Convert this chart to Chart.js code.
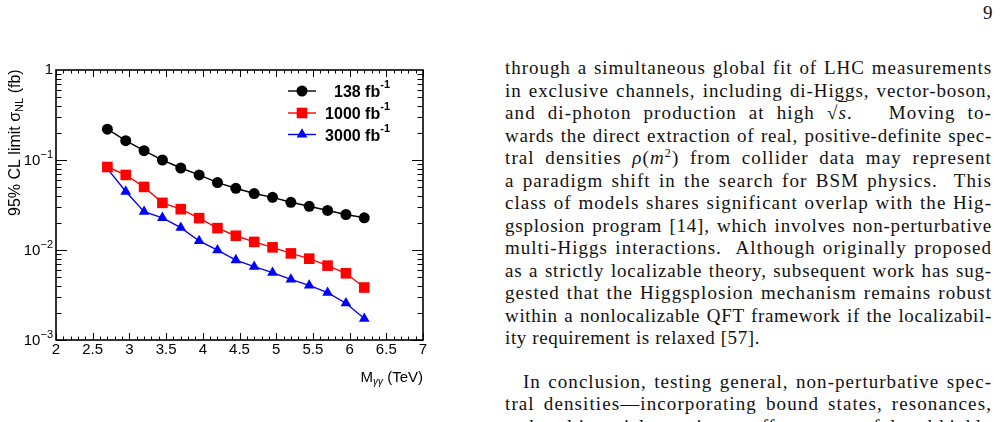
<!DOCTYPE html>
<html lang="en">
<head>
    <meta charset="UTF-8">
    <script src="https://cdn.jsdelivr.net/npm/chart.js"></script>
    <title>Limit plot</title>
    <style>
        html, body { margin: 0; padding: 0; background: #fff; }
        body { width: 1000px; height: 422px; overflow: hidden; position: relative; }
        #grafico { position: absolute; left: 0; top: 0; }
        .texto {
            position: absolute; left: 505px; top: 57px; width: 487px;
            font-family: "Liberation Serif", "DejaVu Serif", serif;
            font-size: 19px; line-height: 22.5px; color: #111;
        }
        .texto div { text-align: justify; text-align-last: justify; white-space: nowrap; }
        .texto div.fim { text-align-last: left; }
        .texto.medir div { text-align: left; text-align-last: left; }
        .texto .p2 { margin-top: 21px; padding-left: 18px; }
        #pagina {
            position: absolute; left: 983px; top: 2px;
            font-family: "Liberation Serif", serif; font-size: 19px; color: #111;
        }
        .raiz { text-decoration: overline; font-style: italic; }
    </style>
</head>
<body>
    <canvas id="grafico" width="460" height="422"></canvas>
    <div id="pagina">9</div>

    <div class="texto" id="texto">
        <div><span>through a simultaneous global fit of LHC measurements</span></div>
        <div><span>in exclusive channels, including di-Higgs, vector-boson,</span></div>
        <div><span>and di-photon production at high &radic;<span class="raiz">s</span>.&nbsp;&nbsp; Moving to-</span></div>
        <div><span>wards the direct extraction of real, positive-definite spec-</span></div>
        <div><span>tral densities <i>&rho;</i>(<i>m</i><sup style="font-size:12px;line-height:0">2</sup>) from collider data may represent</span></div>
        <div><span>a paradigm shift in the search for BSM physics.&nbsp; This</span></div>
        <div><span>class of models shares significant overlap with the Hig-</span></div>
        <div><span>gsplosion program [14], which involves non-perturbative</span></div>
        <div><span>multi-Higgs interactions.&nbsp; Although originally proposed</span></div>
        <div><span>as a strictly localizable theory, subsequent work has sug-</span></div>
        <div><span>gested that the Higgsplosion mechanism remains robust</span></div>
        <div><span>within a nonlocalizable QFT framework if the localizabil-</span></div>
        <div class="fim"><span>ity requirement is relaxed [57].</span></div>
        <div class="p2"><span>In conclusion, testing general, non-perturbative spec-</span></div>
        <div><span>tral densities&mdash;incorporating bound states, resonances,</span></div>
        <div><span>and multi-particle continua&mdash;offers a powerful and highly</span></div>
    </div>

<script>
    // valores (escala log)
    var massas = [2.7, 2.95, 3.2, 3.45, 3.7, 3.95, 4.2, 4.45, 4.7, 4.95, 5.2, 5.45, 5.7, 5.95, 6.2];
    var limite138 = [0.220, 0.164, 0.127, 0.100, 0.0815, 0.0682, 0.0561, 0.0485, 0.0424, 0.0385, 0.0339, 0.0306, 0.0275, 0.0248, 0.0228];
    var limite1000 = [0.0836, 0.0682, 0.0502, 0.0334, 0.0284, 0.0226, 0.0175, 0.0144, 0.0123, 0.0107, 0.00917, 0.00801, 0.00670, 0.00551, 0.00383];
    var limite3000 = [0.0801, 0.0446, 0.0266, 0.0228, 0.0177, 0.0126, 0.00998, 0.00773, 0.00653, 0.00561, 0.00472, 0.00405, 0.00336, 0.00256, 0.00173];
    var rotulosLegenda = ['138', '1000', '3000'];
    var ticksX = [2, 2.5, 3, 3.5, 4, 4.5, 5, 5.5, 6, 6.5, 7];
    var decadasY = [1, 0.1, 0.01, 0.001];

    // espaçamento de letras por linha, para imitar a largura do Computer Modern
    function ajustarTexto() {
        var caixa = document.getElementById('texto');
        caixa.classList.add('medir');
        var linhas = caixa.querySelectorAll('div');
        var larguras = [];
        linhas.forEach(function (l) {
            var s = l.firstElementChild;
            larguras.push(s.getBoundingClientRect().width);
        });
        linhas.forEach(function (l, i) {
            var disponivel = 487 - (l.classList.contains('p2') ? 18 : 0) - 8;
            var n = l.textContent.length;
            var ls = (disponivel - larguras[i]) / n;
            if (l.classList.contains('fim')) ls = 0.6;
            ls = Math.max(0, Math.min(1.1, ls));
            l.style.letterSpacing = ls.toFixed(2) + 'px';
        });
        caixa.classList.remove('medir');
    }
    ajustarTexto();

    function pontos(valores) {
        var lista = [];
        for (let i = 0; i < massas.length; i++) {
            lista.push({ x: massas[i], y: valores[i] });
        }
        return lista;
    }

    function serie(valores, cor, estilo, raio) {
        return {
            data: pontos(valores),
            borderColor: cor,
            backgroundColor: cor,
            borderWidth: 1.4,
            pointStyle: estilo,
            pointRadius: raio,
            pointBorderWidth: 0,
            tension: 0
        };
    }

    var estilos = [
        { cor: '#000000', estilo: 'circle', raio: 5.5 },
        { cor: '#ff0000', estilo: 'rect', raio: 7.5 },
        { cor: '#0000ff', estilo: 'triangle', raio: 6.2 }
    ];

    // eixos, ticks e legenda no estilo ROOT
    var molduraRoot = {
        id: 'molduraRoot',
        afterDraw: function (chart) {
            var ctx = chart.ctx;
            var area = chart.chartArea;
            var sx = chart.scales.x;
            var sy = chart.scales.y;
            ctx.save();
            ctx.strokeStyle = '#000';
            ctx.fillStyle = '#000';

            // moldura
            ctx.lineWidth = 1.6;
            ctx.strokeRect(area.left, area.top, area.right - area.left, area.bottom - area.top);

            ctx.lineWidth = 1;
            ctx.beginPath();
            // ticks x (maiores a cada 0.5, menores a cada 0.1)
            for (let k = 0; k <= 50; k++) {
                var v = 2 + k * 0.1;
                var px = Math.round(sx.getPixelForValue(v)) + 0.5;
                var len = (k % 5 == 0) ? 7 : 3.5;
                ctx.moveTo(px, area.bottom); ctx.lineTo(px, area.bottom - len);
                ctx.moveTo(px, area.top); ctx.lineTo(px, area.top + len);
            }
            // ticks y (log)
            for (let d = -3; d < 0; d++) {
                for (let m = 1; m <= 9; m++) {
                    var val = m * Math.pow(10, d);
                    var py = Math.round(sy.getPixelForValue(val)) + 0.5;
                    var lenY = (m == 1) ? 11 : 5.5;
                    ctx.moveTo(area.left, py); ctx.lineTo(area.left + lenY, py);
                    ctx.moveTo(area.right, py); ctx.lineTo(area.right - lenY, py);
                }
            }
            ctx.stroke();

            // rotulos x
            ctx.font = '15px "Liberation Sans", Arial, sans-serif';
            ctx.textAlign = 'center';
            ctx.textBaseline = 'top';
            ticksX.forEach(function (t) {
                ctx.fillText(String(t), sx.getPixelForValue(t), area.bottom + 2);
            });

            // rotulos y
            ctx.textBaseline = 'middle';
            decadasY.forEach(function (t) {
                var py = sy.getPixelForValue(t);
                if (t == 1) {
                    ctx.textAlign = 'right';
                    ctx.font = '15px "Liberation Sans", Arial, sans-serif';
                    ctx.fillText('1', area.left - 3, py);
                    return;
                }
                var expo = '\u2212' + Math.round(-Math.log10(t));
                ctx.font = '11px "Liberation Sans", Arial, sans-serif';
                ctx.textAlign = 'right';
                ctx.fillText(expo, area.left - 3, py - 5);
                var w = ctx.measureText(expo).width;
                ctx.font = '15px "Liberation Sans", Arial, sans-serif';
                ctx.fillText('10', area.left - 3 - w, py + 1);
            });

            // titulo x
            ctx.textAlign = 'left';
            ctx.textBaseline = 'alphabetic';
            var f15 = '15px "Liberation Sans", Arial, sans-serif';
            var f10 = 'italic 10px "Liberation Sans", Arial, sans-serif';
            ctx.font = f15; var wM = ctx.measureText('M').width;
            ctx.font = f10; var wG = ctx.measureText('\u03b3\u03b3').width;
            ctx.font = f15; var wT = ctx.measureText(' (TeV)').width;
            var xt = area.right - (wM + wG + wT);
            var yt = 382;
            ctx.fillText('M', xt, yt);
            ctx.font = f10; ctx.fillText('\u03b3\u03b3', xt + wM, yt + 3);
            ctx.font = f15; ctx.fillText(' (TeV)', xt + wM + wG, yt);

            // titulo y (rotacionado)
            ctx.save();
            ctx.translate(20, 216);
            ctx.rotate(-Math.PI / 2);
            var f14 = '16px "Liberation Sans", Arial, sans-serif';
            var f9 = '11px "Liberation Sans", Arial, sans-serif';
            ctx.font = f14;
            ctx.fillText('95% CL limit \u03c3', 0, 0);
            var w1 = ctx.measureText('95% CL limit \u03c3').width;
            ctx.font = f9;
            ctx.fillText('NL', w1, 3);
            var w2 = ctx.measureText('NL').width;
            ctx.font = f14;
            ctx.fillText(' (fb)', w1 + w2, 0);
            ctx.restore();

            // legenda
            var linhasY = [91, 113, 134.5];
            for (let i = 0; i < rotulosLegenda.length; i++) {
                var e = estilos[i];
                var ly = linhasY[i];
                ctx.strokeStyle = e.cor;
                ctx.lineWidth = 1.4;
                ctx.beginPath();
                ctx.moveTo(288, ly); ctx.lineTo(316, ly);
                ctx.stroke();
                ctx.fillStyle = e.cor;
                Chart.helpers.drawPoint(ctx, { pointStyle: e.estilo, radius: e.raio, borderWidth: 0 }, 302, ly);
                ctx.fillStyle = '#000';
                ctx.font = 'bold 11px "Liberation Sans", Arial, sans-serif';
                ctx.textAlign = 'right';
                ctx.fillText('-1', 390, ly - 3);
                var ws = ctx.measureText('-1').width;
                ctx.font = 'bold 16px "Liberation Sans", Arial, sans-serif';
                ctx.fillText(rotulosLegenda[i] + ' fb', 390 - ws, ly + 6);
            }
            ctx.restore();
        }
    };

    var dados = {
        datasets: [
            serie(limite138, estilos[0].cor, estilos[0].estilo, estilos[0].raio),
            serie(limite1000, estilos[1].cor, estilos[1].estilo, estilos[1].raio),
            serie(limite3000, estilos[2].cor, estilos[2].estilo, estilos[2].raio)
        ]
    };

    const config = {
        type: 'line',
        data: dados,
        options: {
            responsive: false,
            animation: false,
            devicePixelRatio: 1,
            layout: { padding: { left: 56, right: 37, top: 70, bottom: 82 } },
            plugins: { legend: { display: false }, tooltip: { enabled: false } },
            scales: {
                x: { type: 'linear', min: 2, max: 7, display: false },
                y: { type: 'logarithmic', min: 0.001, max: 1, display: false }
            }
        },
        plugins: [molduraRoot]
    };

    let ctx = document.getElementById('grafico').getContext('2d');
    let myChart = new Chart(ctx, config);
</script>
</body>
</html>
